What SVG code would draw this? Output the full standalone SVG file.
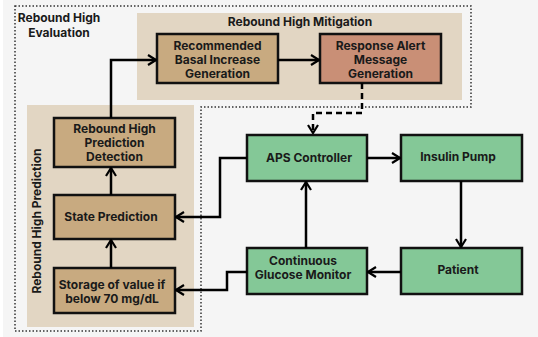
<svg xmlns="http://www.w3.org/2000/svg" width="538" height="337" viewBox="0 0 538 337">
<defs>
<style>
.t{font-family:Inter,"Liberation Sans",sans-serif;font-weight:700;font-size:12px;fill:#1a1a1a;text-anchor:middle}
.box{stroke:#111;stroke-width:2.5}
.tan{fill:#c8aa80}
.sal{fill:#c98f76}
.grn{fill:#84c897}
.panel{fill:#e2d6c3}
.c{stroke:#000;stroke-width:2.5;fill:none;marker-end:url(#ah)}
</style>
<marker id="ah" viewBox="0 0 10 12" refX="9" refY="6" markerWidth="10" markerHeight="12" markerUnits="userSpaceOnUse" orient="auto">
<path d="M1,1 L9,6 L1,11" fill="none" stroke="#000" stroke-width="2.2"/>
</marker>
</defs>
<rect x="0" y="0" width="538" height="337" fill="#ffffff"/>
<rect x="3" y="0" width="535" height="337" fill="#f5f5f5"/>

<g id="evaluation">
<path d="M15,6 H471 V107 H201 V331 H15 Z" fill="none" stroke="#333" stroke-width="1.5" stroke-dasharray="1.5,2"/>
<text class="t" x="59" y="22">Rebound High</text>
<text class="t" x="59" y="37">Evaluation</text>
</g>

<g id="mitigation">
<rect class="panel" x="137" y="13" width="325" height="87"/>
<text class="t" x="300" y="26">Rebound High Mitigation</text>
</g>

<g id="prediction">
<rect class="panel" x="27" y="105" width="167" height="222"/>
<text class="t" transform="translate(41,221) rotate(-90)">Rebound High Prediction</text>
</g>

<g id="recommended">
<rect class="box tan" x="157" y="34" width="121" height="49"/>
<text class="t" x="217.5" y="50">Recommended</text>
<text class="t" x="217.5" y="64">Basal Increase</text>
<text class="t" x="217.5" y="78">Generation</text>
</g>

<g id="response">
<rect class="box sal" x="320" y="34" width="121" height="49"/>
<text class="t" x="380.5" y="50">Response Alert</text>
<text class="t" x="380.5" y="64">Message</text>
<text class="t" x="380.5" y="78">Generation</text>
</g>

<g id="detection">
<rect class="box tan" x="54" y="118" width="121" height="49"/>
<text class="t" x="114.5" y="133">Rebound High</text>
<text class="t" x="114.5" y="147">Prediction</text>
<text class="t" x="114.5" y="161">Detection</text>
</g>

<g id="state">
<rect class="box tan" x="54" y="195" width="121" height="44"/>
<text class="t" x="111" y="221">State Prediction</text>
</g>

<g id="storage">
<rect class="box tan" x="54" y="268" width="121" height="45"/>
<text class="t" x="112" y="289">Storage of value if</text>
<text class="t" x="112" y="303">below 70 mg/dL</text>
</g>

<g id="aps">
<rect class="box grn" x="247" y="135" width="120" height="46"/>
<text class="t" x="309" y="162">APS Controller</text>
</g>

<g id="pump">
<rect class="box grn" x="401" y="135" width="121" height="46"/>
<text class="t" x="458" y="161">Insulin Pump</text>
</g>

<g id="cgm">
<rect class="box grn" x="247" y="248" width="120" height="46"/>
<text class="t" x="303" y="265">Continuous</text>
<text class="t" x="303" y="279">Glucose Monitor</text>
</g>

<g id="patient">
<rect class="box grn" x="401" y="248" width="121" height="46"/>
<text class="t" x="458" y="274">Patient</text>
</g>

<g id="connectors">
<path class="c" d="M278,60 H319"/>
<path class="c" d="M111,118 V60 H156"/>
<path class="c" d="M362,83 V113 H313 V133" stroke-dasharray="6,4"/>
<path class="c" d="M111,195 V168"/>
<path class="c" d="M111,268 V240"/>
<path class="c" d="M367,158 H400"/>
<path class="c" d="M461,181 V247"/>
<path class="c" d="M401,272 H368"/>
<path class="c" d="M306,248 V182"/>
<path class="c" d="M247,158 H220 V217 H176"/>
<path class="c" d="M247,272 H227 V290 H176"/>
</g>
</svg>
